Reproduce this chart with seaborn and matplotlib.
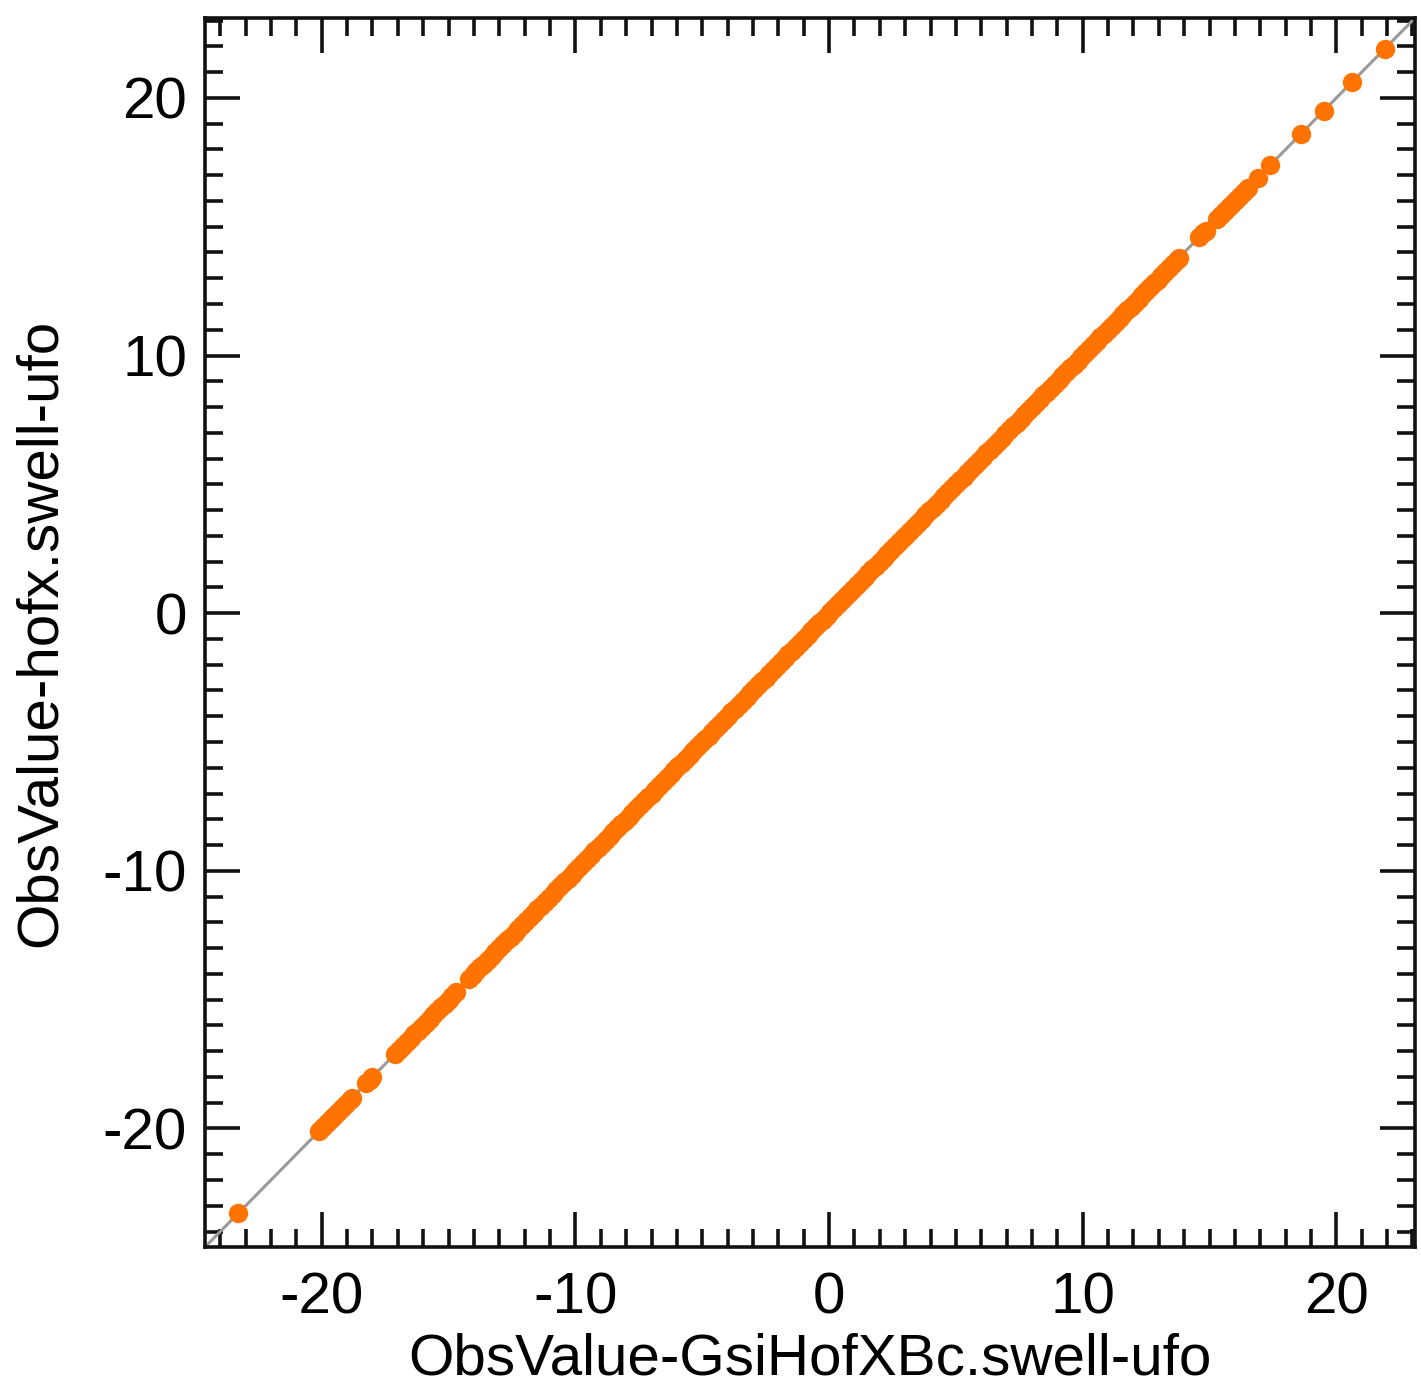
import matplotlib
matplotlib.use("Agg")
import matplotlib.pyplot as plt
import seaborn as sns
import pandas as pd
from matplotlib.ticker import MultipleLocator

# ---- data ----
gsi_values = [
    -23.3,
    -20.1, -19.95, -19.8, -19.65, -19.5, -19.35, -19.2, -19.05, -18.9, -18.8,
    -18.25, -18.1, -18.0,
    -17.1, -16.95, -16.8, -16.65, -16.5, -16.35, -16.2, -16.05, -15.9, -15.75,
    -15.6, -15.45, -15.3, -15.15, -15.0, -14.85, -14.7,
    -14.20, -14.05, -13.90, -13.75, -13.60, -13.45, -13.30, -13.15, -13.00, -12.85,
    -12.70, -12.55, -12.40, -12.25, -12.10, -11.95, -11.80, -11.65, -11.50, -11.35,
    -11.20, -11.05, -10.90, -10.75, -10.60, -10.45, -10.30, -10.15, -10.00, -9.85,
    -9.70, -9.55, -9.40, -9.25, -9.10, -8.95, -8.80, -8.65, -8.50, -8.35,
    -8.20, -8.05, -7.90, -7.75, -7.60, -7.45, -7.30, -7.15, -7.00, -6.85,
    -6.70, -6.55, -6.40, -6.25, -6.10, -5.95, -5.80, -5.65, -5.50, -5.35,
    -5.20, -5.05, -4.90, -4.75, -4.60, -4.45, -4.30, -4.15, -4.00, -3.85,
    -3.70, -3.55, -3.40, -3.25, -3.10, -2.95, -2.80, -2.65, -2.50, -2.35,
    -2.20, -2.05, -1.90, -1.75, -1.60, -1.45, -1.30, -1.15, -1.00, -0.85,
    -0.70, -0.55, -0.40, -0.25, -0.10, 0.05, 0.20, 0.35, 0.50, 0.65,
    0.80, 0.95, 1.10, 1.25, 1.40, 1.55, 1.70, 1.85, 2.00, 2.15,
    2.30, 2.45, 2.60, 2.75, 2.90, 3.05, 3.20, 3.35, 3.50, 3.65,
    3.80, 3.95, 4.10, 4.25, 4.40, 4.55, 4.70, 4.85, 5.00, 5.15,
    5.30, 5.45, 5.60, 5.75, 5.90, 6.05, 6.20, 6.35, 6.50, 6.65,
    6.80, 6.95, 7.10, 7.25, 7.40, 7.55, 7.70, 7.85, 8.00, 8.15,
    8.30, 8.45, 8.60, 8.75, 8.90, 9.05, 9.20, 9.35, 9.50, 9.65,
    9.80, 9.95, 10.10, 10.25, 10.40, 10.55, 10.70, 10.85, 11.00, 11.15,
    11.30, 11.45, 11.60, 11.75, 11.90, 12.05, 12.20, 12.35, 12.50, 12.65,
    12.80, 12.95, 13.10, 13.25, 13.40, 13.55, 13.70, 13.80,
    14.6, 14.75, 14.85,
    15.3, 15.45, 15.6, 15.75, 15.9, 16.05, 16.2, 16.35, 16.5,
    16.9, 17.4, 18.6, 19.5, 20.6, 21.9,
]
# the points lie on the 1:1 line, so the ufo values read identical
ufo_values = list(gsi_values)

x_label = "ObsValue-GsiHofXBc.swell-ufo"
y_label = "ObsValue-hofx.swell-ufo"
major_ticks = [-20, -10, 0, 10, 20]
tick_labels = ["-20", "-10", "0", "10", "20"]
axis_limits = (-24.6, 23.1)

df = pd.DataFrame({"gsi": gsi_values, "ufo": ufo_values})

# ---- style ----
sns.set_theme(style="ticks")
plt.rcParams["font.family"] = ["Liberation Sans", "DejaVu Sans"]
plt.rcParams["axes.unicode_minus"] = False
plt.rcParams["text.color"] = "black"
plt.rcParams["axes.labelcolor"] = "black"
plt.rcParams["xtick.color"] = "black"
plt.rcParams["ytick.color"] = "black"

fig = plt.figure(figsize=(14.21, 13.95), dpi=100)
ax = fig.add_axes([0.1443, 0.1061, 0.9958 - 0.1443, 0.9871 - 0.1061])

ax.axline((0, 0), slope=1, color="#9a9a9a", lw=2.2, zorder=1)
sns.scatterplot(data=df, x="gsi", y="ufo", ax=ax, color="#ff7300",
                s=195, linewidth=0, zorder=2, legend=False)

ax.set_xlim(*axis_limits)
ax.set_ylim(*axis_limits)
ax.set_xticks(major_ticks)
ax.set_xticklabels(tick_labels)
ax.set_yticks(major_ticks)
ax.set_yticklabels(tick_labels)
ax.xaxis.set_minor_locator(MultipleLocator(1))
ax.yaxis.set_minor_locator(MultipleLocator(1))

ax.tick_params(which="both", direction="in", top=True, right=True,
               bottom=True, left=True, color="#111111", labelcolor="black")
ax.tick_params(which="major", length=25, width=2.6, labelsize=42, pad=18)
ax.tick_params(which="minor", length=13, width=2.6)
ax.tick_params(axis="y", which="major", pad=13)

for sp in ax.spines.values():
    sp.set_linewidth(2.6)
    sp.set_color("#111111")

ax.set_xlabel(x_label, fontsize=42, labelpad=5, color="black")
ax.set_ylabel(y_label, fontsize=42, labelpad=25, color="black")

fig.savefig("out.png", dpi=100, facecolor="white")
